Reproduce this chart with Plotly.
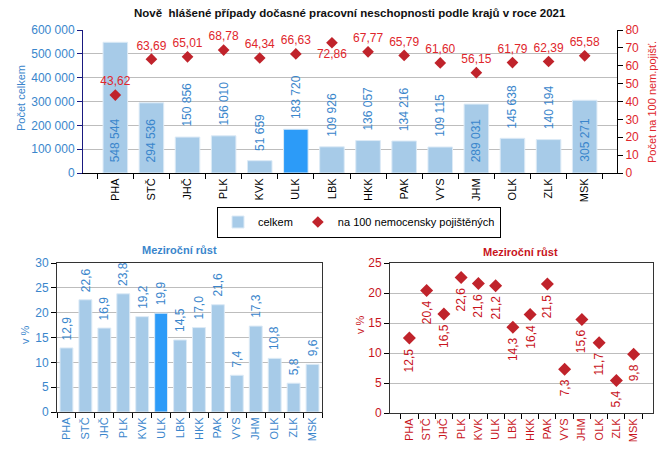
import plotly.graph_objects as go

regions = ["PHA", "STČ", "JHČ", "PLK", "KVK", "ULK", "LBK", "HKK", "PAK", "VYS", "JHM", "OLK", "ZLK", "MSK"]
total_cases = [548544, 294536, 150856, 156010, 51659, 183720, 109926, 136057, 134216, 109115, 289031, 145638, 140194, 305271]
per_100_insured = [43.62, 63.69, 65.01, 68.78, 64.34, 66.63, 72.86, 67.77, 65.79, 61.60, 56.15, 61.79, 62.39, 65.58]
growth_total = [12.9, 22.6, 16.9, 23.8, 19.2, 19.9, 14.5, 17.0, 21.6, 7.4, 17.3, 10.8, 5.8, 9.6]
growth_per_100 = [12.5, 20.4, 16.5, 22.6, 21.6, 21.2, 14.3, 16.4, 21.5, 7.3, 15.6, 11.7, 5.4, 9.8]
highlight = "ULK"

# page body has an 8px margin; lay out in window pixels and convert
OFF = 8
W, H = 671 - OFF, 463 - OFF
def px_x(a, b):
    return [(a - OFF) / W, (b - OFF) / W]
def px_y(top, bottom):
    return [1 - (bottom - OFF) / H, 1 - (top - OFF) / H]

LIGHT = "#A7CBE8"
BRIGHT = "#2C9BF8"
BLUE_TXT = "#3A86CC"
RED_TXT = "#E0262C"
RED_MK = "#C0232B"
DARK_RED_TXT = "#C8141C"
FONT = "Liberation Sans, Arial, sans-serif"
FS = 11

def cz(v, d):
    return f"{v:.{d}f}".replace(".", ",")

def thousands(v):
    return f"{v:,}".replace(",", " ")

bar_colors = [BRIGHT if r == highlight else LIGHT for r in regions]

fig = go.Figure()
annotations = []

# --- top chart ---
fig.add_trace(go.Bar(
    x=regions, y=total_cases, name="celkem",
    marker=dict(color=bar_colors, line=dict(color="#DCEAF6", width=1)),
    xaxis="x", yaxis="y", showlegend=True,
))
for r, v in zip(regions, total_cases):
    big = v > 250000
    annotations.append(dict(
        x=r, y=0 if big else v, xref="x", yref="y", text=thousands(v),
        textangle=-90, showarrow=False, yanchor="bottom",
        yshift=9 if big else 8,
        font=dict(color=BLUE_TXT, size=FS + 1, family=FONT),
    ))
fig.add_trace(go.Scatter(
    x=regions, y=per_100_insured, name="na 100 nemocensky pojištěných",
    mode="markers+text",
    marker=dict(symbol="diamond", color=RED_MK, size=9),
    text=[cz(v, 2) for v in per_100_insured],
    textposition=["bottom center" if r == "LBK" else "top center" for r in regions],
    textfont=dict(color=RED_TXT, size=FS + 1, family=FONT),
    cliponaxis=False,
    xaxis="x", yaxis="y2", showlegend=True,
))

# --- bottom left ---
fig.add_trace(go.Bar(
    x=regions, y=growth_total,
    marker=dict(color=bar_colors, line=dict(color="#DCEAF6", width=1)),
    xaxis="x3", yaxis="y3", showlegend=False,
))
for r, v in zip(regions, growth_total):
    annotations.append(dict(
        x=r, y=v, xref="x3", yref="y3", text=cz(v, 1), textangle=-90,
        showarrow=False, yanchor="bottom", yshift=6,
        font=dict(color=BLUE_TXT, size=FS + 1, family=FONT),
    ))

# --- bottom right ---
fig.add_trace(go.Scatter(
    x=regions, y=growth_per_100, mode="markers",
    marker=dict(symbol="diamond", color=RED_MK, size=10),
    cliponaxis=False, xaxis="x4", yaxis="y4", showlegend=False,
))
for r, v in zip(regions, growth_per_100):
    annotations.append(dict(
        x=r, y=v, xref="x4", yref="y4", text=cz(v, 1), textangle=-90,
        showarrow=False, yanchor="top", yshift=-8,
        font=dict(color=DARK_RED_TXT, size=FS + 1, family=FONT),
    ))

def ann(x, y, text, color, size=FS, bold=False, angle=0):
    annotations.append(dict(
        x=(x - OFF) / W, y=1 - (y - OFF) / H, xref="paper", yref="paper",
        text=f"<b>{text}</b>" if bold else text, showarrow=False,
        textangle=angle, xanchor="center", yanchor="middle",
        font=dict(color=color, size=size, family=FONT),
    ))

ann(350, 13, "Nově  hlášené případy dočasné pracovní neschopnosti podle krajů v roce 2021", "#111111", 11.5, True)
ann(21, 98, "Počet celkem", BLUE_TXT, FS, angle=-90)
ann(652, 102, "Počet na 100 nem.pojišť.", RED_TXT, FS, angle=-90)
ann(179, 250, "Meziroční růst", BLUE_TXT, FS, True)
ann(520, 252, "Meziroční růst", DARK_RED_TXT, FS, True)
ann(25, 335, "v %", BLUE_TXT, FS, angle=-90)
ann(360, 325, "v %", DARK_RED_TXT, FS, angle=-90)

cat_axis = dict(
    type="category", tickangle=-90, ticks="outside", tickson="boundaries",
    ticklen=5, tickcolor="#000000", showline=True, linecolor="#000000",
    linewidth=1, showgrid=False, automargin=False,
)

fig.update_layout(
    width=W, height=H, margin=dict(l=0, r=0, t=0, b=0),
    paper_bgcolor="white", plot_bgcolor="white",
    separators=", ",
    font=dict(family=FONT, size=FS),
    bargap=0.32,
    xaxis=dict(cat_axis, domain=px_x(83, 617), anchor="y",
               tickfont=dict(color="#000000", size=FS, family=FONT)),
    yaxis=dict(domain=px_y(30, 173), range=[0, 600000], dtick=100000,
               tickformat=",d", showgrid=True, gridcolor="#BDBDBD",
               showline=True, linecolor="#1A1A80", linewidth=1,
               ticks="outside", ticklen=5, tickcolor="#1A1A80",
               tickfont=dict(color=BLUE_TXT, size=FS + 1, family=FONT),
               zeroline=False, automargin=False, anchor="x"),
    yaxis2=dict(overlaying="y", side="right", anchor="x", range=[0, 80],
                dtick=10, showgrid=False, showline=True, linecolor="#000000",
                ticks="outside", ticklen=5, tickcolor="#000000",
                tickfont=dict(color=RED_TXT, size=FS + 1, family=FONT),
                zeroline=False, automargin=False),
    xaxis3=dict(cat_axis, domain=px_x(57, 322), anchor="y3", mirror=True,
                linecolor="#333333",
                tickfont=dict(color=BLUE_TXT, size=FS, family=FONT)),
    yaxis3=dict(domain=px_y(263, 412), range=[0, 30], dtick=5, anchor="x3",
                showgrid=True, gridcolor="#BDBDBD", showline=True,
                linecolor="#333333", mirror=True, ticks="outside", ticklen=5,
                tickcolor="#000000", zeroline=False, automargin=False,
                tickfont=dict(color=BLUE_TXT, size=FS + 1, family=FONT)),
    xaxis4=dict(cat_axis, domain=px_x(390, 653), anchor="y4", mirror=True,
                linecolor="#333333",
                tickfont=dict(color=DARK_RED_TXT, size=FS, family=FONT)),
    yaxis4=dict(domain=px_y(263, 413), range=[0, 25], dtick=5, anchor="x4",
                showgrid=True, gridcolor="#BDBDBD", showline=True,
                linecolor="#333333", mirror=True, ticks="outside", ticklen=5,
                tickcolor="#000000", zeroline=False, automargin=False,
                tickfont=dict(color=DARK_RED_TXT, size=FS + 1, family=FONT)),
    legend=dict(orientation="h", x=(359 - OFF) / W, y=1 - (222 - OFF) / H,
                xanchor="center", yanchor="middle", bordercolor="#000000",
                borderwidth=1, bgcolor="white",
                font=dict(color="#000000", size=FS, family=FONT),
                itemwidth=30, tracegroupgap=0),
    annotations=annotations,
)

fig.write_html("out.html")
